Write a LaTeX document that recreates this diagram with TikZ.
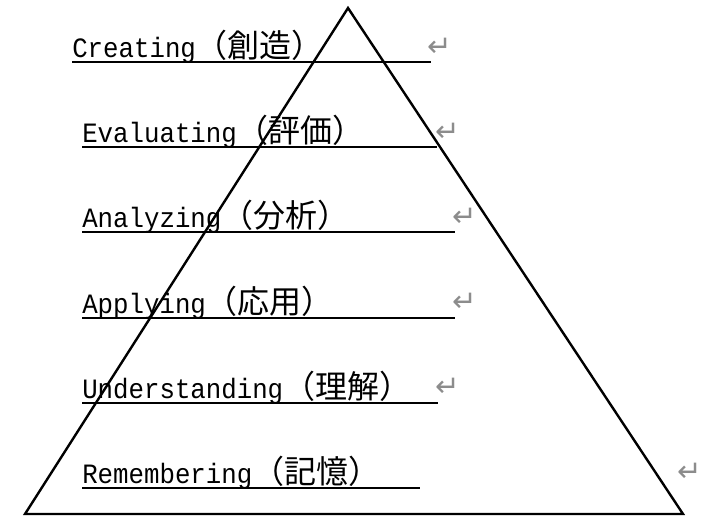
\documentclass[tikz,border=0pt]{standalone}
\usepackage{fontspec}
\setmonofont[FakeStretch=0.92]{Liberation Mono}
\newfontfamily\cjk{Noto Sans CJK JP}
\newfontfamily\symb{DejaVu Sans}
\newcommand{\jp}[1]{{\cjk\fontsize{24}{25}\selectfont #1}}

\begin{document}
\begin{tikzpicture}[x=0.75pt,y=-0.75pt,
    lbl/.style={anchor=base west,inner sep=0pt,
      font=\ttfamily\fontsize{21}{22}\selectfont},
    ret/.style={inner sep=0pt,text=black!45,
      font=\symb\fontsize{22}{22}\selectfont},
    uline/.style={line width=1.4pt},
    pyramid/.style={line width=1.8pt,line join=miter}]
  \useasboundingbox (0,0) rectangle (705,517);

  \coordinate (apex) at (348,8);
  \coordinate (bl) at (25,514);
  \coordinate (br) at (683,514);
  \draw[pyramid] (bl) -- (apex) -- (br) -- cycle;

  \node[lbl] (create) at (72,57) {Creating\jp{（創造）}};
  \draw[uline] (72,62) -- (431,62);
  \node[ret] (r1) at (440,47) {↵};

  \node[lbl] (eval) at (82,142) {Evaluating\jp{（評価）}};
  \draw[uline] (82,147) -- (437,147);
  \node[ret] (r2) at (448,132) {↵};

  \node[lbl] (analyze) at (82,227) {Analyzing\jp{（分析）}};
  \draw[uline] (82,232) -- (455,232);
  \node[ret] (r3) at (465,217) {↵};

  \node[lbl] (apply) at (82,313) {Applying\jp{（応用）}};
  \draw[uline] (82,318) -- (455,318);
  \node[ret] (r4) at (465,302) {↵};

  \node[lbl] (understand) at (82,398) {Understanding\jp{（理解）}};
  \draw[uline] (82,403) -- (438,403);
  \node[ret] (r5) at (448,387) {↵};

  \node[lbl] (remember) at (82,483) {Remembering\jp{（記憶）}};
  \draw[uline] (82,488) -- (420,488);
  \node[ret] (r6) at (690,472) {↵};
\end{tikzpicture}
\end{document}
